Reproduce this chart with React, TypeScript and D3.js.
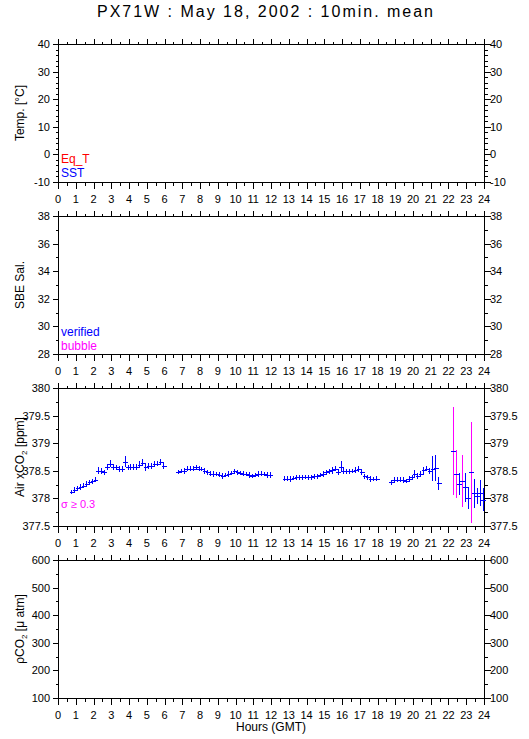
import React from "react";
import * as d3 from "d3";

const TITLE = "PX71W : May 18, 2002 : 10min. mean";
const HOUR_TICKS = d3.range(0, 25);
const tempTicks = [-10, 0, 10, 20, 30, 40];
const salTicks = [28, 30, 32, 34, 36, 38];
const co2Ticks = [377.5, 378, 378.5, 379, 379.5, 380];
const pco2Ticks = [100, 200, 300, 400, 500, 600];

// Air xCO2 10-minute means (ppm), segments start at given hour, 10-min spacing
const co2Seg1Start = 0.75;
const co2Seg1 = [378.12, 378.15, 378.18, 378.21, 378.23, 378.26, 378.29, 378.31, 378.34, 378.5, 378.5, 378.47, 378.57, 378.63, 378.57, 378.56, 378.53, 378.53, 378.66, 378.56, 378.57, 378.57, 378.57, 378.61, 378.65, 378.56, 378.59, 378.59, 378.62, 378.63, 378.66, 378.59];
const co2Seg1Sigma = [0.04, 0.05, 0.05, 0.05, 0.05, 0.05, 0.05, 0.05, 0.05, 0.06, 0.05, 0.05, 0.06, 0.06, 0.05, 0.05, 0.05, 0.05, 0.1, 0.05, 0.05, 0.05, 0.05, 0.06, 0.07, 0.06, 0.05, 0.05, 0.05, 0.05, 0.06, 0.05];

const co2Seg2Start = 6.75;
const co2Seg2 = [378.48, 378.5, 378.5, 378.54, 378.54, 378.54, 378.56, 378.54, 378.53, 378.5, 378.47, 378.45, 378.44, 378.44, 378.43, 378.41, 378.42, 378.44, 378.46, 378.49, 378.47, 378.46, 378.45, 378.44, 378.42, 378.41, 378.42, 378.44, 378.45, 378.44, 378.42, 378.42];
const co2Seg2Sigma = [0.04, 0.04, 0.05, 0.04, 0.05, 0.04, 0.05, 0.05, 0.04, 0.05, 0.04, 0.04, 0.05, 0.04, 0.05, 0.05, 0.04, 0.05, 0.04, 0.05, 0.04, 0.04, 0.05, 0.04, 0.05, 0.04, 0.04, 0.05, 0.04, 0.04, 0.05, 0.05];

const co2Seg3Start = 12.75;
const co2Seg3 = [378.36, 378.36, 378.35, 378.37, 378.38, 378.38, 378.38, 378.39, 378.38, 378.38, 378.4, 378.4, 378.42, 378.44, 378.47, 378.49, 378.51, 378.54, 378.48, 378.57, 378.5, 378.49, 378.49, 378.5, 378.51, 378.53, 378.48, 378.4, 378.38, 378.35, 378.35, 378.36];
const co2Seg3Sigma = [0.04, 0.04, 0.05, 0.04, 0.04, 0.05, 0.04, 0.04, 0.05, 0.04, 0.04, 0.05, 0.04, 0.05, 0.05, 0.05, 0.06, 0.05, 0.05, 0.1, 0.05, 0.04, 0.05, 0.04, 0.05, 0.05, 0.05, 0.05, 0.04, 0.05, 0.04, 0.04];

const co2Seg4Start = 18.75;
const co2Seg4 = [378.29, 378.33, 378.34, 378.34, 378.33, 378.32, 378.35, 378.38, 378.45, 378.41, 378.45, 378.51, 378.54, 378.5, 378.54, 378.55, 378.27];
const co2Seg4Sigma = [0.04, 0.05, 0.04, 0.04, 0.05, 0.04, 0.05, 0.05, 0.06, 0.05, 0.05, 0.06, 0.05, 0.05, 0.22, 0.23, 0.12];

const co2Seg5Start = 22.25;
const co2Seg5 = [378.86, 378.44, 378.26, 378.32, 378.2, 378.01, 378.47, 378.09, 378.04, 378.1, 377.98];
const co2Seg5Sigma = [0.8, 0.43, 0.2, 0.47, 0.26, 0.2, 0.91, 0.26, 0.15, 0.23, 0.21];

const BLUE = "#0000ff";
const MAGENTA = "#ff00ff";
const RED = "#ff0000";
const FONT = "'Liberation Sans', Arial, Helvetica, sans-serif";

const X0 = 58;
const X1 = 484;
const PH = 138;

type Panel = {
  top: number;
  domain: [number, number];
  ticks: number[];
  minor: number;
  label: React.ReactNode;
};

const panels: Panel[] = [
  { top: 44, domain: [-10, 40], ticks: tempTicks, minor: 2, label: <>Temp. [°C]</> },
  { top: 216, domain: [28, 38], ticks: salTicks, minor: 1, label: <>SBE Sal.</> },
  {
    top: 388,
    domain: [377.5, 380],
    ticks: co2Ticks,
    minor: 0.25,
    label: (
      <>
        Air xCO<tspan fontSize={8} dy={3}>2</tspan>
        <tspan dy={-3}> [ppm]</tspan>
      </>
    ),
  },
  {
    top: 560,
    domain: [100, 600],
    ticks: pco2Ticks,
    minor: 50,
    label: (
      <>
        ρCO<tspan fontSize={8} dy={3}>2</tspan>
        <tspan dy={-3}> [μ atm]</tspan>
      </>
    ),
  },
];

const segments = [
  { start: co2Seg1Start, v: co2Seg1, s: co2Seg1Sigma },
  { start: co2Seg2Start, v: co2Seg2, s: co2Seg2Sigma },
  { start: co2Seg3Start, v: co2Seg3, s: co2Seg3Sigma },
  { start: co2Seg4Start, v: co2Seg4, s: co2Seg4Sigma },
  { start: co2Seg5Start, v: co2Seg5, s: co2Seg5Sigma },
];

const x = d3.scaleLinear().domain([0, 24]).range([X0, X1]);
const px = (v: number) => Math.round(v) + 0.5;

function PanelView({ p }: { p: Panel }) {
  const bottom = p.top + PH;
  const y = d3.scaleLinear().domain(p.domain).range([bottom, p.top]);
  const minorTicks = d3
    .range(Math.round((p.domain[1] - p.domain[0]) / p.minor) + 1)
    .map((i) => p.domain[0] + i * p.minor);
  const halfHours = d3.range(49).map((i) => i / 2);
  const fmt = (v: number) => String(v);
  return (
    <g>
      <rect x={px(X0)} y={px(p.top)} width={Math.round(X1) - Math.round(X0)} height={PH} fill="none" stroke="#000" strokeWidth={1} />
      {halfHours.map((h) => {
        const xx = px(x(h));
        const len = Number.isInteger(h) ? 6 : 3;
        return (
          <g key={"x" + h}>
            <line x1={xx} x2={xx} y1={px(p.top)} y2={px(p.top) - len} stroke="#000" />
            <line x1={xx} x2={xx} y1={px(bottom)} y2={px(bottom) + len} stroke="#000" />
          </g>
        );
      })}
      {minorTicks.map((v) => {
        const yy = px(y(v));
        const major = p.ticks.some((t) => Math.abs(t - v) < 1e-6);
        const len = major ? 6 : 3;
        return (
          <g key={"y" + v}>
            <line x1={px(X0)} x2={px(X0) - len} y1={yy} y2={yy} stroke="#000" />
            <line x1={px(X1)} x2={px(X1) + len} y1={yy} y2={yy} stroke="#000" />
          </g>
        );
      })}
      {p.ticks.map((v) => (
        <g key={"l" + v} fontSize={11} fontFamily={FONT}>
          <text x={50} y={y(v)} dy="0.36em" textAnchor="end">{fmt(v)}</text>
          <text x={490} y={y(v)} dy="0.36em" textAnchor="start">{fmt(v)}</text>
        </g>
      ))}
      {HOUR_TICKS.map((h) => (
        <text key={"h" + h} x={x(h)} y={bottom + 20.5} textAnchor="middle" fontSize={11} fontFamily={FONT}>
          {h}
        </text>
      ))}
      <text transform={`translate(24,${p.top + PH / 2}) rotate(-90)`} textAnchor="middle" fontSize={12} fontFamily={FONT}>
        {p.label}
      </text>
    </g>
  );
}

export default function App() {
  const co2 = panels[2];
  const yc = d3.scaleLinear().domain(co2.domain).range([co2.top + PH, co2.top]);
  const half = 1 / 12;
  return (
    <svg width={529} height={739} style={{ position: "absolute", left: 0, top: 0, background: "#fff" }} shapeRendering="crispEdges">
      <rect x={0} y={0} width={529} height={739} fill="#fff" />
      <text x={265} y={17.3} textAnchor="middle" fontSize={16} fontFamily={FONT} textLength={336} lengthAdjust="spacing">
        {TITLE}
      </text>
      {panels.map((p, i) => (
        <PanelView key={i} p={p} />
      ))}
      <g fontSize={12} fontFamily={FONT}>
        <text x={61} y={162.5} fill={RED}>Eq_T</text>
        <text x={61} y={176.7} fill={BLUE}>SST</text>
        <text x={61} y={336} fill={BLUE}>verified</text>
        <text x={61} y={349.5} fill={MAGENTA}>bubble</text>
        <text x={61} y={507.5} fill={MAGENTA} fontSize={11}>σ ≥ 0.3</text>
      </g>
      <g>
        {segments.map((seg, si) =>
          seg.v.map((v, i) => {
            const t = seg.start + i / 6;
            const s = seg.s[i];
            const xc = px(x(t));
            const col = s >= 0.3 ? MAGENTA : BLUE;
            return (
              <g key={si + "-" + i}>
                <line x1={xc} x2={xc} y1={yc(v - s)} y2={yc(v + s)} stroke={col} strokeWidth={1} />
                <line x1={Math.round(x(t - half)) - 0.5} x2={Math.round(x(t + half)) + 1.5} y1={px(yc(v))} y2={px(yc(v))} stroke={BLUE} strokeWidth={1} />
              </g>
            );
          })
        )}
      </g>
      <text x={271} y={731} textAnchor="middle" fontSize={12} fontFamily={FONT}>
        Hours (GMT)
      </text>
    </svg>
  );
}
